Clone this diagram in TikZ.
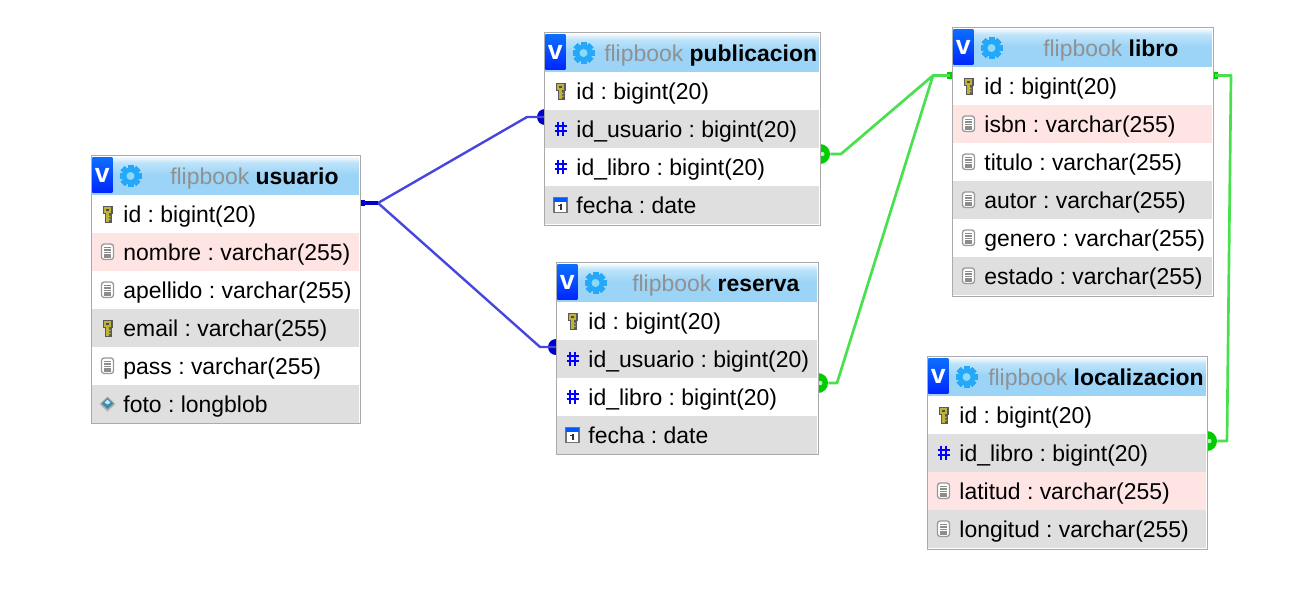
\documentclass[tikz,border=0pt]{standalone}
\usepackage{fontspec}
\setmainfont{Liberation Sans}
\frenchspacing
\definecolor{rowpink}{RGB}{255,228,228}
\definecolor{rowgray}{RGB}{223,223,223}
\definecolor{rimgray}{RGB}{170,170,170}
\definecolor{headblue}{RGB}{155,212,247}
\definecolor{titlegray}{RGB}{145,145,145}
\definecolor{gearblue}{RGB}{38,168,250}
\definecolor{linkblue}{RGB}{70,70,222}
\definecolor{linkgreen}{RGB}{72,224,76}
\definecolor{dotblue}{RGB}{0,0,205}
\definecolor{dotgreen}{RGB}{0,205,0}
\pgfdeclareverticalshading{headshade}{100bp}{color(0bp)=(headblue);color(52bp)=(headblue);color(68bp)=(headblue!65!white);color(75bp)=(headblue!15!white);color(100bp)=(headblue!15!white)}
\tikzset{
  dbbox/.style={draw=rimgray,line width=0.9pt,fill=white,anchor=north west,inner sep=0pt},
  rowbox/.style={anchor=north west,inner sep=0pt,minimum height=28.5pt},
  rowtext/.style={anchor=base west,inner sep=0pt,font=\fontsize{17.2}{20}\selectfont},
  headbox/.style={anchor=north west,inner sep=0pt,minimum height=28.5pt,shading=headshade},
  headtext/.style={anchor=base west,inner sep=0pt,font=\fontsize{17.2}{20}\selectfont},
  vbadge/.style={anchor=north west,inner sep=0pt,minimum width=15pt,minimum height=26pt,top color=blue!60!cyan!95!white,bottom color=blue!85!cyan,text=white,font=\fontsize{20}{20}\selectfont\bfseries},
  bluelink/.style={draw=linkblue,line width=1.8pt,line join=round},
  greenlink/.style={draw=linkgreen,line width=2pt,line join=round},
  bluesq/.style={fill=dotblue,inner sep=0pt,minimum size=5pt},
  greensq/.style={fill=dotgreen,inner sep=0pt,minimum size=5pt},
  bluecirc/.style={circle,fill=dotblue,inner sep=0pt,minimum size=12pt},
  greencirc/.style={circle,inner sep=0pt,minimum size=15pt,fill=dotgreen,path picture={\fill[dotgreen!25!white] ([xshift=1.8pt]path picture bounding box.center) circle (1.6pt);}},
  keyicon/.pic={
    \fill[black!65] (-5,-8) rectangle (5,0);
    \fill[black!65] (-3,0) rectangle (4,9);
    \fill[yellow!70!black] (-3.5,-6.5) rectangle (3.5,-1);
    \fill[yellow!70!black] (-1.3,-1) rectangle (1.3,8);
    \fill[yellow!70!black] (1,2) rectangle (3,3.7) (1,5) rectangle (3,6.7);
    \fill[black!70] (-1.2,-4.5) rectangle (1.2,-3);
  },
  docicon/.pic={
    \draw[black!40,fill=white,line width=1pt,rounded corners=2pt] (-6,-7.5) rectangle (6,8);
    \foreach \d in {-4,-1.5,1,3.5,5.5} \draw[black!45,line width=0.8pt] (-3.5,\d) -- (3.5,\d);
  },
  hashicon/.pic={
    \draw[blue,line width=1.4pt] (-2.5,-7) -- (-2.5,7.5) (2.5,-7) -- (2.5,7.5) (-6,-2.5) -- (6,-2.5) (-6,2.5) -- (6,2.5);
  },
  dateicon/.pic={
    \draw[black!55,fill=white,line width=0.9pt] (-6.5,-7) rectangle (6.5,8);
    \fill[blue!65!cyan] (-6.5,-7) rectangle (6.5,-3);
    \fill[black!80] (-1,-0.5) rectangle (1.2,5.5);
    \fill[black!80] (-2.5,0) rectangle (-1,1.5);
  },
  blobicon/.pic={
    \fill[black!30] (-8,0.5) -- (0,-7) -- (8,0.5) -- (0,8) -- cycle;
    \fill[cyan!65!black] (-6,0) -- (0,-5.5) -- (6,0) -- (0,5.5) -- cycle;
    \fill[cyan!25] (-3,-1) -- (0,-4) -- (3,-1) -- (0,1) -- cycle;
  },
  gearicon/.pic={
    \foreach \a in {0,45,...,315} \fill[gearblue,rotate=\a] (-3,-11) rectangle (3,11);
    \fill[gearblue] (0,0) circle (8.5);
    \fill[cyan!45!white] (0,0) circle (4);
  },
}
% name, x, y, width, height, title offset, title
\newcommand{\dbhead}[7]{
  \def\tx{#2}\def\ty{#3}\def\tw{#4}
  \node[dbbox,minimum width=#4*0.75pt,minimum height=#5*0.75pt] (#1) at (#2,#3) {};
  \node[headbox,minimum width=(#4-2)*0.75pt] (#1-head) at (#2+1,#3+2.5) {};
  \node[vbadge] (#1-v) at (#2+1.5,#3+3) {v};
  \pic at (#2+40,#3+21.5) {gearicon};
  \node[headtext] (#1-title) at (#2+#6,#3+29.5) {\textcolor{titlegray}{flipbook} \textbf{#7}};
}
% name, rows as icon/colour/text
\newcommand{\dbrows}[2]{
  \foreach \ic/\bg/\txt [count=\r] in {#2} {
    \node[rowbox,fill=\bg,minimum width=(\tw-2)*0.75pt] (#1-\r) at (\tx+1,\ty+2.5+38*\r) {};
    \pic at (\tx+17,\ty+21+38*\r) {\ic};
    \node[rowtext] (#1-\r-t) at (\tx+32.7,\ty+30+38*\r) {\txt};
  }
}
\begin{document}
\begin{tikzpicture}[x=0.75pt,y=-0.75pt]
\useasboundingbox (0,0) rectangle (1310,601);
% links go first, the tables hide half of each dot
\node[bluesq] (usu-dot) at (362,203) {};
\node[bluecirc] (pub-dot) at (545,117) {};
\node[bluecirc] (res-dot) at (556,347) {};
\coordinate (usu-fork) at (378,203);
\coordinate (pub-bend) at (527,117);
\coordinate (res-bend) at (540,347);
\draw[bluelink] (usu-dot.center) -- (usu-fork) -- (pub-bend) -- (pub-dot.center);
\draw[bluelink] (usu-fork) -- (res-bend) -- (res-dot.center);
\draw[draw=dotblue,line width=2.4pt] (usu-dot.center) -- (usu-fork);
\node[greencirc] (pub-ball) at (820,154) {};
\node[greencirc] (res-ball) at (818,383) {};
\node[greencirc] (loc-ball) at (1207,441) {};
\node[greensq] (lib-west) at (950,75.5) {};
\node[greensq] (lib-east) at (1215,75.5) {};
\coordinate (lib-fork) at (933,75.5);
\coordinate (pub-gbend) at (841,154);
\coordinate (res-gbend) at (837,383);
\coordinate (east-top) at (1231,75.5);
\coordinate (east-low) at (1227,441);
\draw[greenlink] (pub-ball.east) -- (pub-gbend) -- (lib-fork) -- (lib-west.center);
\draw[greenlink] (res-ball.east) -- (res-gbend) -- (lib-fork);
\draw[greenlink] (lib-east.center) -- (east-top) -- (east-low) -- (loc-ball.east);
% tables
\dbhead{usuario}{90.5}{154.5}{269}{268}{79.5}{usuario}
\dbrows{usuario}{keyicon/white/id : bigint(20),docicon/rowpink/nombre : varchar(255),docicon/white/apellido : varchar(255),keyicon/rowgray/email : varchar(255),docicon/white/pass : varchar(255),blobicon/rowgray/foto : longblob}
\dbhead{publicacion}{543.5}{31.5}{276}{193}{60.5}{publicacion}
\dbrows{publicacion}{keyicon/white/id : bigint(20),hashicon/rowgray/id\_usuario : bigint(20),hashicon/white/id\_libro : bigint(20),dateicon/rowgray/fecha : date}
\dbhead{reserva}{555.5}{261.5}{262}{192}{76.5}{reserva}
\dbrows{reserva}{keyicon/white/id : bigint(20),hashicon/rowgray/id\_usuario : bigint(20),hashicon/white/id\_libro : bigint(20),dateicon/rowgray/fecha : date}
\dbhead{libro}{951.5}{26.5}{261}{269}{91.5}{libro}
\dbrows{libro}{keyicon/white/id : bigint(20),docicon/rowpink/isbn : varchar(255),docicon/white/titulo : varchar(255),docicon/rowgray/autor : varchar(255),docicon/white/genero : varchar(255),docicon/rowgray/estado : varchar(255)}
\dbhead{localizacion}{926.5}{355.5}{280}{193}{61.5}{localizacion}
\dbrows{localizacion}{keyicon/white/id : bigint(20),hashicon/rowgray/id\_libro : bigint(20),docicon/rowpink/latitud : varchar(255),docicon/rowgray/longitud : varchar(255)}
\end{tikzpicture}
\end{document}
